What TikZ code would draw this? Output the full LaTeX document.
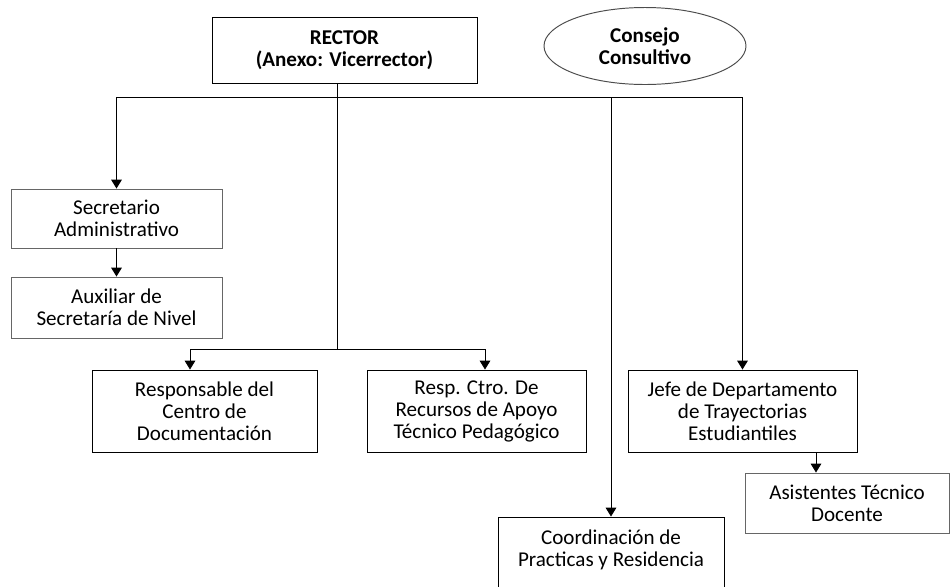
\documentclass[tikz,border=0pt]{standalone}
\usepackage{fontspec}
\setmainfont{Carlito}
\usepackage{tikz}
\usetikzlibrary{arrows.meta,shapes.geometric}

\begin{document}
\begin{tikzpicture}[x=0.02cm,y=-0.02cm,line width=0.55pt,
    >={Triangle[length=5pt,width=6pt]},
    box/.style={draw,rectangle,align=center,inner sep=2pt,
      font=\fontsize{12}{12.5}\selectfont},
    pale/.style={box,draw=black!60}]
   \useasboundingbox (0,0) rectangle (951,586);
   \node[box,minimum width=265*0.02cm,minimum height=66*0.02cm,font=\fontsize{12}{12.5}\selectfont\bfseries] (rector) at (344.5,50) {RECTOR\\(Anexo: Vicerrector)};
   \node[draw=black!70,ellipse,minimum width=202*0.02cm,minimum height=77*0.02cm,align=center,font=\fontsize{12}{12.5}\selectfont\bfseries] (consejo) at (645,46) {Consejo\\Consultivo};
   \node[pale,minimum width=211*0.02cm,minimum height=59*0.02cm] (secre) at (116.5,218.5) {Secretario\\Administrativo};
   \node[pale,minimum width=211*0.02cm,minimum height=61*0.02cm] (aux) at (116.5,307.5) {Auxiliar de\\Secretaría de Nivel};
   \node[box,minimum width=225*0.02cm,minimum height=82*0.02cm] (respdoc) at (204.5,411) {Responsable del\\Centro de\\Documentación};
   \node[box,minimum width=219*0.02cm,minimum height=82*0.02cm] (respctro) at (476.5,411) {Resp. Ctro. De\\Recursos de Apoyo\\Técnico Pedagógico};
   \node[box,minimum width=229*0.02cm,minimum height=82*0.02cm] (jefe) at (742.5,411) {Jefe de Departamento\\de Trayectorias\\Estudiantiles};
   \node[pale,minimum width=204*0.02cm,minimum height=60*0.02cm] (asist) at (847,503) {Asistentes Técnico\\Docente};
   \node[box,minimum width=226*0.02cm,minimum height=86*0.02cm,text depth=14pt] (coord) at (611,560) {Coordinación de\\Practicas y Residencia};

   \coordinate (hub) at (337,97);
   \coordinate (fork) at (337,349);
   \coordinate (docx) at (190,349);
   \coordinate (ctrox) at (485,349);
   \coordinate (astx) at (816,0);
   \draw (rector.south -| hub) -- (fork);
   \draw[->] (hub) -| (secre.north);
   \draw[->] (hub) -| (jefe.north);
   \draw[->] (coord.north |- hub) -- (coord.north);
   \draw[->] (secre) -- (aux);
   \draw[->] (ctrox) -- (docx) -- (docx |- respdoc.north);
   \draw[->] (docx) -- (ctrox) -- (ctrox |- respctro.north);
   \draw[->] (jefe.south -| astx) -- (asist.north -| astx);
\end{tikzpicture}
\end{document}
